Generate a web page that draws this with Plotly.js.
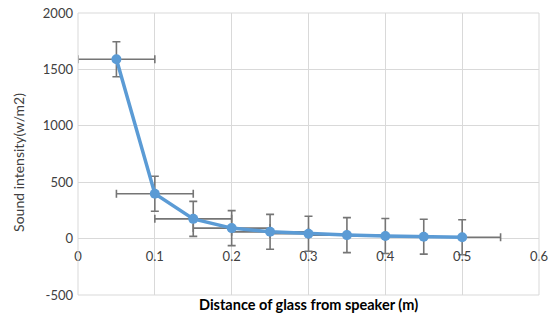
<!DOCTYPE html>
<html><head><meta charset="utf-8">
<script src="https://cdn.plot.ly/plotly-3.0.1.min.js"></script>
<style>html,body{margin:0;padding:0;background:#fff}#c{width:559px;height:320px}</style>
</head><body><div id="c"></div>
<script>
var distance = [0.05, 0.1, 0.15, 0.2, 0.25, 0.3, 0.35, 0.4, 0.45, 0.5];
var intensity = [1590, 398, 175, 93, 60, 43, 31, 23, 17, 12];
var yError = [155, 155, 155, 155, 155, 155, 155, 155, 155, 155];
var xError = [0.05, 0.05, 0.05, 0.05, 0.05, 0.05, 0.05, 0.05, 0.05, 0.05];
var xTicks = [0, 0.1, 0.2, 0.3, 0.4, 0.5, 0.6];
var xTickText = ['0', '0.1', '0.2', '0.3', '0.4', '0.5', '0.6'];
var yTicks = [-500, 0, 500, 1000, 1500, 2000];
var yTickText = ['-500', '0', '500', '1000', '1500', '2000'];

var font = 'Lato, "Open Sans", sans-serif';
var traces = [
  {x: distance, y: intensity, type: 'scatter', mode: 'markers',
   marker: {size: 1, color: 'rgba(0,0,0,0)'},
   error_y: {type: 'data', array: yError, visible: true, color: '#757575', thickness: 1.6, width: 4},
   error_x: {type: 'data', array: xError, visible: true, color: '#757575', thickness: 1.6, width: 4},
   hoverinfo: 'skip', showlegend: false},
  {x: distance, y: intensity, type: 'scatter', mode: 'lines+markers',
   line: {color: '#5B9BD5', width: 3.5},
   marker: {color: '#5B9BD5', size: 10},
   showlegend: false}
];
var layout = {
  width: 559, height: 320,
  margin: {l: 78, r: 20, t: 13, b: 25},
  paper_bgcolor: '#fff', plot_bgcolor: '#fff',
  font: {family: font, size: 13, color: '#404040'},
  xaxis: {range: [0, 0.6], tickvals: xTicks, ticktext: xTickText,
    anchor: 'free', position: 0.2,
    showgrid: true, gridcolor: '#d9d9d9', gridwidth: 1,
    zeroline: false, showline: false, ticks: '', ticklabelstandoff: 8,
    tickfont: {family: font, size: 13, color: '#404040'}},
  yaxis: {range: [-500, 2000], tickvals: yTicks, ticktext: yTickText,
    showgrid: true, gridcolor: '#d9d9d9', gridwidth: 1,
    zeroline: true, zerolinecolor: '#d9d9d9', zerolinewidth: 1,
    showline: false, ticks: '', ticklabelstandoff: 4,
    tickfont: {family: font, size: 13, color: '#404040'}},
  shapes: [
    {type: 'line', xref: 'paper', yref: 'paper', x0: 0, x1: 1, y0: 0, y1: 0, line: {color: '#d9d9d9', width: 1}},
    {type: 'line', xref: 'paper', yref: 'paper', x0: 1, x1: 1, y0: 0, y1: 1, line: {color: '#d9d9d9', width: 1}},
    {type: 'line', xref: 'paper', yref: 'paper', x0: 0, x1: 1, y0: 1, y1: 1, line: {color: '#d9d9d9', width: 1}},
    {type: 'line', xref: 'paper', yref: 'paper', x0: 0, x1: 0, y0: 0, y1: 1, line: {color: '#d9d9d9', width: 1}}
  ],
  annotations: [
    {text: '<b>Distance of glass from speaker (m)</b>', xref: 'paper', yref: 'paper',
     x: 0.5, y: 0, yshift: -9, xanchor: 'center', yanchor: 'middle', showarrow: false,
     font: {family: font, size: 14.5, color: '#000000'}},
    {text: 'Sound intensity(w/m2)', xref: 'paper', yref: 'paper', textangle: -90,
     x: -0.128, y: 0.472, xanchor: 'center', yanchor: 'middle', showarrow: false,
     font: {family: font, size: 14, color: '#404040'}}
  ]
};
Plotly.newPlot('c', traces, layout, {displayModeBar: false, staticPlot: true});
</script></body></html>
